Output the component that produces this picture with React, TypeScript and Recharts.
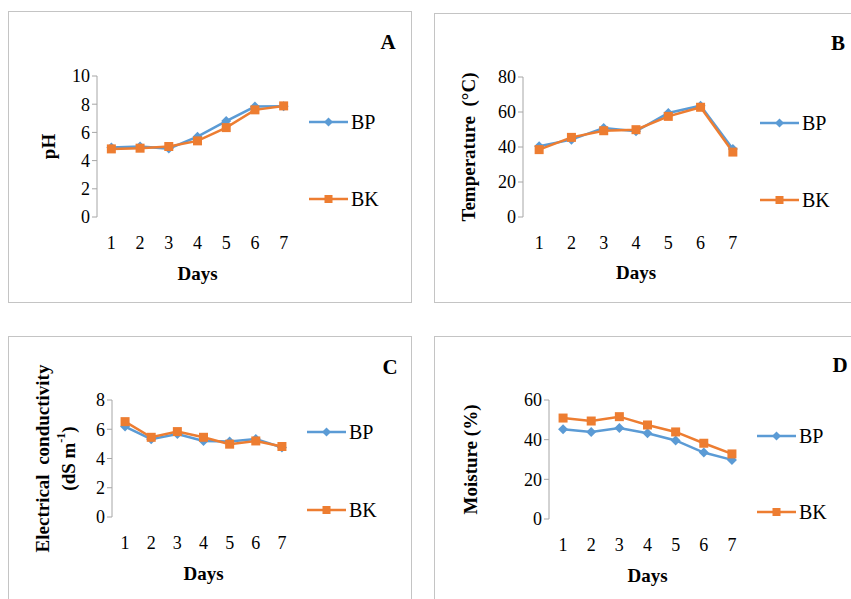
import React from "react";
import { LineChart, Line, XAxis, YAxis, Legend, Label } from "recharts";

// days on the x axis, and the edges between them (for the tick marks)
const days = ["1", "2", "3", "4", "5", "6", "7"];
const bandEdges = [0, 1, 2, 3, 4, 5, 6, 7];
const seriesOrder = ["BP", "BK"];

// A - pH
const phBP = [4.93, 5.0, 4.85, 5.7, 6.8, 7.83, 7.85];
const phBK = [4.83, 4.88, 5.0, 5.4, 6.34, 7.6, 7.88];
const phTicks = [0, 2, 4, 6, 8, 10];

// B - temperature
const tempBP = [40.4, 44.2, 50.9, 49.0, 59.4, 63.6, 38.9];
const tempBK = [38.5, 45.5, 49.3, 49.9, 57.5, 62.7, 37.1];
const tempTicks = [0, 20, 40, 60, 80];

// C - electrical conductivity
const ecBP = [6.18, 5.32, 5.68, 5.2, 5.16, 5.34, 4.75];
const ecBK = [6.52, 5.45, 5.84, 5.45, 4.98, 5.2, 4.82];
const ecTicks = [0, 2, 4, 6, 8];

// D - moisture
const moistBP = [45.2, 43.9, 45.9, 43.2, 39.6, 33.5, 29.8];
const moistBK = [50.9, 49.4, 51.6, 47.4, 43.9, 38.2, 32.8];
const moistTicks = [0, 20, 40, 60];

const FONT = "Liberation Serif";
const BLUE = "#5B9BD5";
const ORANGE = "#ED7D31";
const AXIS = "#a6a6a6";
const X_AXIS_H = 30;

const toRows = (bp: number[], bk: number[]) =>
  days.map((d, i) => ({ day: d, BP: bp[i], BK: bk[i] }));

const diamondPath = (cx: number, cy: number, r: number) =>
  `M${cx},${cy - r}L${cx + r},${cy}L${cx},${cy + r}L${cx - r},${cy}Z`;

const Diamond = (props: any) => {
  const { cx, cy, index } = props;
  if (cx == null || cy == null) return <g key={`bp-${index}`} />;
  return <path key={`bp-${index}`} d={diamondPath(cx, cy, 5)} fill={BLUE} />;
};

const Square = (props: any) => {
  const { cx, cy, index } = props;
  if (cx == null || cy == null) return <g key={`bk-${index}`} />;
  return (
    <rect key={`bk-${index}`} x={cx - 4.5} y={cy - 4.5} width={9} height={9} fill={ORANGE} />
  );
};

const legendContent = (gap: number) => (props: any) => {
  const items = [...(props.payload || [])].sort(
    (a: any, b: any) => seriesOrder.indexOf(a.value) - seriesOrder.indexOf(b.value)
  );
  return (
    <svg width={90} height={gap + 24} style={{ overflow: "visible" }}>
      {items.map((it: any, i: number) => {
        const y = 12 + i * gap;
        return (
          <g key={it.value}>
            <line x1={0} x2={39} y1={y} y2={y} stroke={it.color} strokeWidth={2.5} />
            {it.value === "BP" ? (
              <path d={diamondPath(19.5, y, 4.5)} fill={it.color} />
            ) : (
              <rect x={15.5} y={y - 4} width={8} height={8} fill={it.color} />
            )}
            <text
              x={42}
              y={y}
              dominantBaseline="central"
              fontSize={20}
              fontFamily={FONT}
              fill="#000"
            >
              {it.value}
            </text>
          </g>
        );
      })}
    </svg>
  );
};

interface PanelProps {
  left: number;
  top: number;
  width: number;
  height: number;
  margin: { top: number; right: number; bottom: number; left: number };
  bp: number[];
  bk: number[];
  yTicks: number[];
  yLabel: React.ReactNode[];
  yLabelX: number[];
  daysY: number;
  legendX: number;
  legendY: number;
  legendGap: number;
  letter: string;
  letterX: number;
  letterY: number;
}

const Panel: React.FC<PanelProps> = (p) => {
  const data = toRows(p.bp, p.bk);
  const plotW = p.width - p.margin.left - 40 - p.margin.right;
  const plotH = p.height - p.margin.top - p.margin.bottom - X_AXIS_H;
  const pad = plotW / 14;
  const midY = p.margin.top + plotH / 2;
  const midX = p.margin.left + 40 + plotW / 2;
  const tickStyle = { fill: "#000", fontSize: 18, fontFamily: FONT };

  return (
    <div
      style={{
        position: "absolute",
        left: p.left,
        top: p.top,
        width: p.width,
        height: p.height,
        fontFamily: FONT,
      }}
    >
      <LineChart
        width={p.width}
        height={p.height}
        data={data}
        margin={p.margin}
        style={{ fontFamily: FONT }}
      >
        <XAxis
          xAxisId="frame"
          type="number"
          domain={[0, 7]}
          ticks={bandEdges}
          allowDataOverflow
          height={0}
          tickSize={5}
          tick={false}
          axisLine={{ stroke: AXIS }}
          tickLine={{ stroke: AXIS }}
        />
        <XAxis
          xAxisId="days"
          dataKey="day"
          height={X_AXIS_H}
          interval={0}
          axisLine={false}
          tickLine={false}
          tickSize={0}
          tickMargin={19}
          padding={{ left: pad, right: pad }}
          tick={tickStyle}
        >
          <Label
            content={() => (
              <text
                x={midX}
                y={p.daysY}
                textAnchor="middle"
                dominantBaseline="central"
                fontSize={19}
                fontWeight="bold"
                fontFamily={FONT}
                fill="#000"
              >
                Days
              </text>
            )}
          />
        </XAxis>
        <YAxis
          domain={[0, p.yTicks[p.yTicks.length - 1]]}
          ticks={p.yTicks}
          interval={0}
          width={40}
          tickSize={5}
          tickMargin={2}
          axisLine={{ stroke: AXIS }}
          tickLine={{ stroke: AXIS }}
          tick={tickStyle}
        >
          <Label
            content={() => (
              <g>
                {p.yLabel.map((t, i) => (
                  <text
                    key={i}
                    x={p.yLabelX[i]}
                    y={midY}
                    transform={`rotate(-90, ${p.yLabelX[i]}, ${midY})`}
                    textAnchor="middle"
                    dominantBaseline="central"
                    fontSize={19}
                    fontWeight="bold"
                    fontFamily={FONT}
                    fill="#000"
                    style={{ whiteSpace: "pre" }}
                  >
                    {t}
                  </text>
                ))}
              </g>
            )}
          />
        </YAxis>
        <Legend
          layout="horizontal"
          verticalAlign="middle"
          align="center"
          wrapperStyle={{ left: p.legendX, top: p.legendY - 12, width: 90 }}
          content={legendContent(p.legendGap)}
        />
        <Line
          xAxisId="days"
          type="linear"
          dataKey="BP"
          name="BP"
          stroke={BLUE}
          strokeWidth={2.5}
          dot={Diamond}
          activeDot={false}
          isAnimationActive={false}
        />
        <Line
          xAxisId="days"
          type="linear"
          dataKey="BK"
          name="BK"
          stroke={ORANGE}
          strokeWidth={2.5}
          dot={Square}
          activeDot={false}
          isAnimationActive={false}
        />
      </LineChart>
      <div
        style={{
          position: "absolute",
          left: p.letterX - 15,
          top: p.letterY - 13,
          width: 30,
          lineHeight: "26px",
          textAlign: "center",
          fontSize: 21,
          fontWeight: "bold",
          color: "#000",
        }}
      >
        {p.letter}
      </div>
      <div
        style={{
          position: "absolute",
          left: 0,
          top: 0,
          width: p.width,
          height: p.height,
          boxSizing: "border-box",
          border: "1.5px solid #c4c4c4",
          pointerEvents: "none",
        }}
      />
    </div>
  );
};

export default function App() {
  return (
    <div
      style={{
        position: "fixed",
        left: 0,
        top: 0,
        width: 851,
        height: 599,
        overflow: "hidden",
        background: "#fff",
      }}
    >
      <Panel
        left={8}
        top={11}
        width={404}
        height={292}
        margin={{ top: 65, right: 114, bottom: 56, left: 49 }}
        bp={phBP}
        bk={phBK}
        yTicks={phTicks}
        yLabel={["pH"]}
        yLabelX={[40]}
        daysY={262}
        legendX={301}
        legendY={111}
        legendGap={77}
        letter="A"
        letterX={380}
        letterY={31}
      />
      <Panel
        left={434}
        top={13}
        width={430}
        height={290}
        margin={{ top: 64, right: 115, bottom: 56, left: 49 }}
        bp={tempBP}
        bk={tempBK}
        yTicks={tempTicks}
        yLabel={["Temperature  (°C)"]}
        yLabelX={[34]}
        daysY={259}
        legendX={326}
        legendY={110}
        legendGap={77}
        letter="B"
        letterX={404}
        letterY={30}
      />
      <Panel
        left={8}
        top={336}
        width={404}
        height={270}
        margin={{ top: 64, right: 117, bottom: 59, left: 64 }}
        bp={ecBP}
        bk={ecBK}
        yTicks={ecTicks}
        yLabel={[
          "Electrical  conductivity",
          <>
            (dS m
            <tspan fontSize={12} dy={-7}>
              -1
            </tspan>
            <tspan dy={7}>)</tspan>
          </>,
        ]}
        yLabelX={[34, 60]}
        daysY={237}
        legendX={299}
        legendY={96}
        legendGap={78}
        letter="C"
        letterX={382}
        letterY={31}
      />
      <Panel
        left={434}
        top={336}
        width={430}
        height={270}
        margin={{ top: 64, right: 118, bottom: 57, left: 75 }}
        bp={moistBP}
        bk={moistBK}
        yTicks={moistTicks}
        yLabel={["Moisture (%)"]}
        yLabelX={[36]}
        daysY={239}
        legendX={323}
        legendY={100}
        legendGap={76}
        letter="D"
        letterX={406}
        letterY={29}
      />
    </div>
  );
}
